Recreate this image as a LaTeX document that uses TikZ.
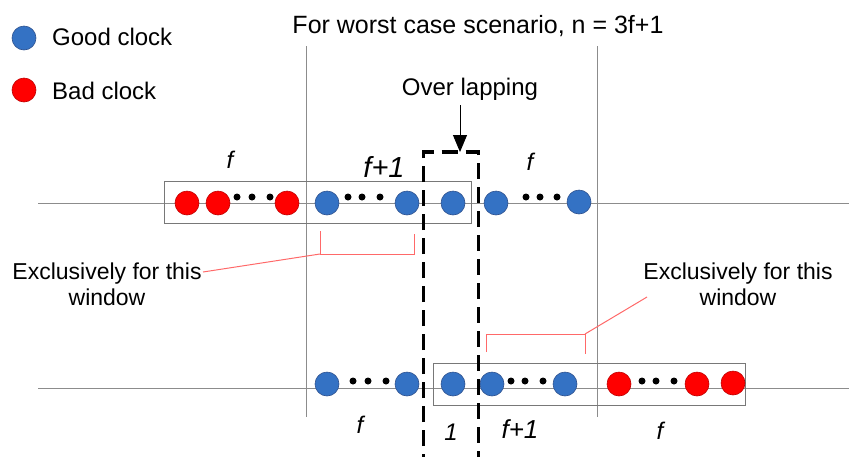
\documentclass[tikz,border=0pt]{standalone}
\usepackage{fontspec}
\setmainfont{Liberation Sans}
\usetikzlibrary{arrows.meta}
\definecolor{goodblue}{RGB}{52,114,196}
\definecolor{goodedge}{RGB}{47,82,143}
\definecolor{badred}{RGB}{255,0,0}
\definecolor{badedge}{RGB}{192,0,0}
\definecolor{linegray}{RGB}{140,140,140}
\definecolor{boxgray}{RGB}{120,120,120}
\definecolor{leadred}{RGB}{255,105,105}
\tikzset{
  good/.style={circle,minimum size=24pt,inner sep=0pt,fill=goodblue,draw=goodedge,line width=0.6pt},
  bad/.style={circle,minimum size=24pt,inner sep=0pt,fill=badred,draw=badedge,line width=0.6pt},
  dotn/.style={circle,minimum size=7pt,inner sep=0pt,fill=black},
  txt/.style={font=\fontsize{24}{28}\selectfont,inner sep=0pt},
  exl/.style={font=\fontsize{23}{26}\selectfont,inner sep=0pt,align=center},
  lab/.style={font=\fontsize{24}{28}\selectfont\itshape,inner sep=0pt,anchor=base},
  labbig/.style={font=\fontsize{29}{32}\selectfont\itshape,inner sep=0pt,anchor=base},
  axis/.style={draw=linegray,line width=1pt},
  vline/.style={draw=linegray,line width=1pt},
  winbox/.style={draw=boxgray,line width=1pt},
  overlap/.style={draw=black,line width=3.6pt,dash pattern=on 16pt off 8pt},
  leader/.style={draw=leadred,line width=1pt}
}
\begin{document}
\begin{tikzpicture}[x=1pt,y=-1pt]
\useasboundingbox (0,0) rectangle (849,456);
% legend
\node[good] (lg) at (24,38) {};
\node[bad] (lb) at (24,90) {};
\node[txt,anchor=base west] (lgt) at (52,45) {Good clock};
\node[txt,anchor=base west] (lbt) at (52,99) {Bad clock};
% title
\node[font=\fontsize{25}{29}\selectfont,inner sep=0pt,anchor=base] (title) at (478,33) {For worst case scenario, n = 3f+1};
% vertical separators
\coordinate (v1t) at (306,46); \coordinate (v1b) at (306,417);
\coordinate (v2t) at (597,46); \coordinate (v2b) at (597,417);
\draw[vline] (v1t) -- (v1b);
\draw[vline] (v2t) -- (v2b);
% horizontal axes
\coordinate (h1a) at (38,203.5); \coordinate (h1b) at (849,203.5);
\coordinate (h2a) at (38,388); \coordinate (h2b) at (849,388);
\draw[axis] (h1a) -- (h1b);
\draw[axis] (h2a) -- (h2b);
% windows
\draw[winbox] (164,181) rectangle (471,223);
\draw[winbox] (433,363) rectangle (745,405);
% top row
\node[bad] (t1) at (187,203) {};
\node[bad] (t2) at (218,203) {};
\node[dotn] (td1) at (237,197) {};
\node[dotn] (td2) at (252,197) {};
\node[dotn] (td3) at (270,197) {};
\node[bad] (t3) at (287,203) {};
\node[good] (t4) at (327,203) {};
\node[dotn] (td4) at (348,197) {};
\node[dotn] (td5) at (362,197) {};
\node[dotn] (td6) at (380,197) {};
\node[good] (t5) at (407,203) {};
\node[good] (t6) at (453,203) {};
\node[good] (t7) at (496,203) {};
\node[dotn] (td7) at (526,197) {};
\node[dotn] (td8) at (540,197) {};
\node[dotn] (td9) at (557,197) {};
\node[good] (t8) at (579,202) {};
% bottom row
\node[good] (b1) at (327,384) {};
\node[dotn] (bd1) at (353,381) {};
\node[dotn] (bd2) at (368,381) {};
\node[dotn] (bd3) at (386,381) {};
\node[good] (b2) at (407,384) {};
\node[good] (b3) at (453,384) {};
\node[good] (b4) at (492,384) {};
\node[dotn] (bd4) at (511,381) {};
\node[dotn] (bd5) at (525,381) {};
\node[dotn] (bd6) at (543,381) {};
\node[good] (b5) at (565,384) {};
\node[bad] (b6) at (619,384) {};
\node[dotn] (bd7) at (642,381) {};
\node[dotn] (bd8) at (656,381) {};
\node[dotn] (bd9) at (674,381) {};
\node[bad] (b7) at (697,384) {};
\node[bad] (b8) at (733,383) {};
% labels
\node[lab] (lt1) at (230,168) {f};
\node[labbig] (lt2) at (384,177) {f+1};
\node[lab] (lt3) at (530,170) {f};
\node[lab] (lb1) at (360,433) {f};
\node[lab] (lb2) at (451,440) {1};
\node[font=\fontsize{26}{30}\selectfont\itshape,inner sep=0pt,anchor=base] (lb3) at (520,438) {f+1};
\node[lab] (lb4) at (660,439) {f};
% exclusive brackets and leaders
\node[exl] (ex1) at (107,284) {Exclusively for this\\window};
\node[exl] (ex2) at (738,284) {Exclusively for this\\window};
\coordinate (k1a) at (320,231); \coordinate (k1b) at (320,254);
\coordinate (k1c) at (414,254); \coordinate (k1d) at (414,234);
\draw[leader] (k1a) -- (k1b) -- (k1c) -- (k1d);
\coordinate (e1) at (203,272);
\draw[leader] (e1) -- (k1b);
\coordinate (k2a) at (486,352); \coordinate (k2b) at (486,334);
\coordinate (k2c) at (585,334); \coordinate (k2d) at (585,354);
\draw[leader] (k2a) -- (k2b) -- (k2c) -- (k2d);
\coordinate (e2) at (647,297);
\draw[leader] (k2c) -- (e2);
% overlapping region
\node[txt,anchor=base] (ovl) at (470,95) {Over lapping};
\coordinate (ovtip) at (460,152);
\draw[line width=1pt,-{Triangle[width=14pt,length=17pt]}] (ovl.south -| ovtip) ++(0,5) -- (ovtip);
\coordinate (oa) at (423.5,470); \coordinate (ob) at (423.5,152);
\coordinate (oc) at (478.5,152); \coordinate (od) at (478.5,470);
\draw[overlap] (oa) -- (ob) -- (oc) -- (od);
\end{tikzpicture}
\end{document}
